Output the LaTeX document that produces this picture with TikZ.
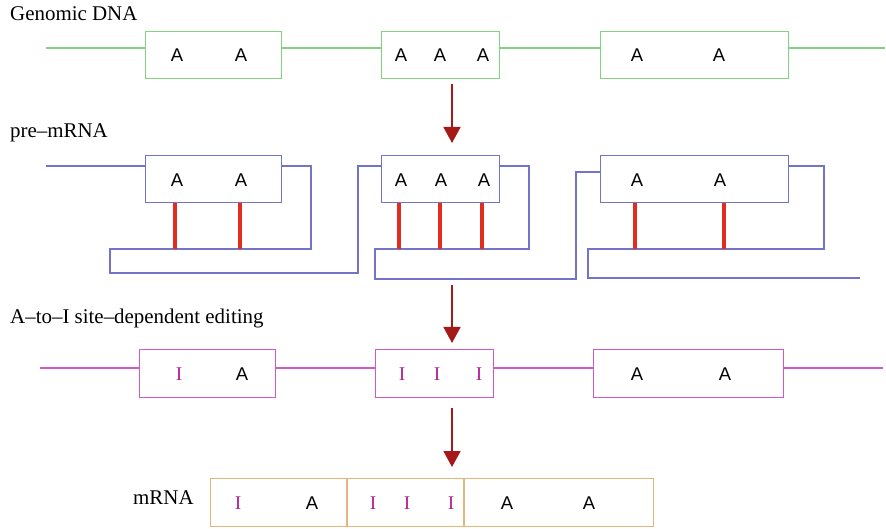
\documentclass[tikz,border=0pt]{standalone}
\usepackage{fontspec}
\setmainfont{Liberation Serif}
\newfontfamily\lsans{Liberation Sans}
\usetikzlibrary{arrows.meta,calc}
\definecolor{gcol}{RGB}{130,210,130}
\definecolor{bcol}{RGB}{115,115,200}
\definecolor{mcol}{RGB}{205,90,205}
\definecolor{icol}{RGB}{180,30,150}
\definecolor{tcol}{RGB}{232,180,125}
\definecolor{barcol}{RGB}{225,45,30}
\definecolor{arrcol}{RGB}{165,25,25}
\tikzset{
  exon/.style={draw=#1, rectangle, inner sep=0pt, anchor=north west, line width=1.3bp},
  wire/.style={draw=#1, line width=1.3bp},
  bar/.style={barcol, line width=4bp},
  arr/.style={arrcol, line width=1.8bp, -{Triangle[width=17bp,length=16bp]}},
  lab/.style={anchor=base west, inner sep=0pt, font=\fontsize{21}{24}\selectfont},
  aa/.style={anchor=base, inner sep=0pt, font=\lsans\fontsize{18.5}{20}\selectfont},
  ii/.style={anchor=base, inner sep=0pt, text=icol, font=\fontsize{19.5}{20}\selectfont},
}
\begin{document}
\begin{tikzpicture}[x=1bp,y=-1bp]
\useasboundingbox (0,0) rectangle (886,529);
% labels
\node[lab] (l1) at (10,21) {Genomic DNA};
\node[lab] (l2) at (10,138) {pre–mRNA};
\node[lab] (l3) at (10,324) {A–to–I site–dependent editing};
\node[lab] (l4) at (133,504) {mRNA};

% ---------- Row 1: genomic DNA ----------
\node[exon=gcol, minimum width=136bp, minimum height=47bp] (g1) at (145,31) {};
\node[exon=gcol, minimum width=118bp, minimum height=47bp] (g2) at (381,31) {};
\node[exon=gcol, minimum width=188bp, minimum height=47bp] (g3) at (600,31) {};
\coordinate (gL) at (46,48);
\coordinate (gR) at (885,48);
\draw[wire=gcol] (gL) -- (gL -| g1.west);
\draw[wire=gcol] (g1.east |- gL) -- (g2.west |- gL);
\draw[wire=gcol] (g2.east |- gL) -- (g3.west |- gL);
\draw[wire=gcol] (g3.east |- gL) -- (gR);
\foreach \x/\n in {177/ga1,241/ga2,401/ga3,440/ga4,483/ga5,637/ga6,719/ga7}
  \node[aa] (\n) at (\x,62) {A};

% ---------- Row 2: pre-mRNA ----------
\node[exon=bcol, minimum width=136bp, minimum height=47bp] (p1) at (145,155) {};
\node[exon=bcol, minimum width=118bp, minimum height=47bp] (p2) at (381,155) {};
\node[exon=bcol, minimum width=188bp, minimum height=47bp] (p3) at (600,155) {};
\coordinate (pL) at (46,166);
\coordinate (pE) at (860,278);
\draw[wire=bcol] (pL) -- (pL -| p1.west);
\draw[wire=bcol] (p1.east |- pL) -- (311,166) -- (311,249) -- (110,249) -- (110,273)
   -- (358,273) -- (358,166) -- (p2.west |- pL);
\draw[wire=bcol] (p2.east |- pL) -- (529,166) -- (529,249) -- (375,249) -- (375,279)
   -- (576,279) -- (576,172) -- (p3.west |- 0,172);
\draw[wire=bcol] (p3.east |- pL) -- (824,166) -- (824,249) -- (588,249) -- (588,278) -- (pE);
\foreach \x/\n in {177/pa1,241/pa2,401/pa3,441/pa4,484/pa5,637/pa6,720/pa7}
  \node[aa] (\n) at (\x,187) {A};
\draw[bar] (p1.south -| 175,0) -- (175,249);
\draw[bar] (p1.south -| 240,0) -- (240,249);
\draw[bar] (p2.south -| 399,0) -- (399,249);
\draw[bar] (p2.south -| 440,0) -- (440,249);
\draw[bar] (p2.south -| 482,0) -- (482,249);
\draw[bar] (p3.south -| 635,0) -- (635,249);
\draw[bar] (p3.south -| 724,0) -- (724,249);

% ---------- Row 3: edited ----------
\node[exon=mcol, minimum width=136bp, minimum height=48bp] (e1) at (139,349) {};
\node[exon=mcol, minimum width=118bp, minimum height=48bp] (e2) at (375,349) {};
\node[exon=mcol, minimum width=190bp, minimum height=48bp] (e3) at (593,349) {};
\coordinate (eL) at (40,368);
\coordinate (eR) at (883,368);
\draw[wire=mcol] (eL) -- (eL -| e1.west);
\draw[wire=mcol] (e1.east |- eL) -- (e2.west |- eL);
\draw[wire=mcol] (e2.east |- eL) -- (e3.west |- eL);
\draw[wire=mcol] (e3.east |- eL) -- (eR);
\node[ii] (ei1) at (179,380) {I};
\node[aa] (ea2) at (242,380) {A};
\node[ii] (ei3) at (402,380) {I};
\node[ii] (ei4) at (437,380) {I};
\node[ii] (ei5) at (479,380) {I};
\node[aa] (ea6) at (637,380) {A};
\node[aa] (ea7) at (725,380) {A};

% ---------- Row 4: mRNA ----------
\node[exon=tcol, minimum width=443bp, minimum height=48bp] (m) at (210,478) {};
\draw[wire=tcol] (m.north -| 347,0) -- (m.south -| 347,0);
\draw[wire=tcol] (m.north -| 464,0) -- (m.south -| 464,0);
\node[ii] (mi1) at (238,509) {I};
\node[aa] (ma2) at (312,509) {A};
\node[ii] (mi3) at (373,509) {I};
\node[ii] (mi4) at (407,509) {I};
\node[ii] (mi5) at (451,509) {I};
\node[aa] (ma6) at (507,509) {A};
\node[aa] (ma7) at (589,509) {A};

% ---------- arrows ----------
\coordinate (s1) at (452,84);  \coordinate (t1) at (452,143);
\coordinate (s2) at (452,285); \coordinate (t2) at (452,343);
\coordinate (s3) at (452,408); \coordinate (t3) at (452,467);
\draw[arr] (s1) -- (t1);
\draw[arr] (s2) -- (t2);
\draw[arr] (s3) -- (t3);
\end{tikzpicture}
\end{document}
